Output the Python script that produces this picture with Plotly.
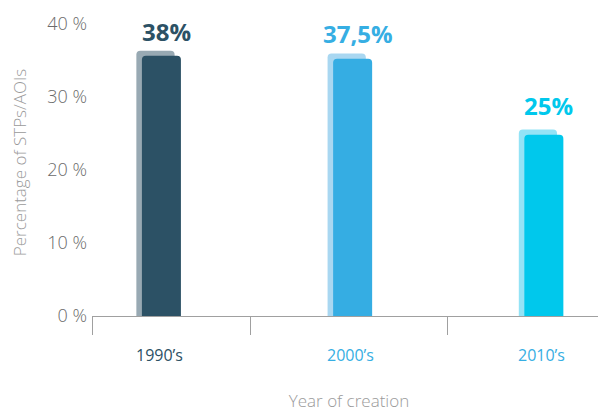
import plotly.graph_objects as go

# ---- data ----
categories = ["1990’s", "2000’s", "2010’s"]
bar_values = [35.6, 35.2, 24.8]          # bar heights (%)
value_labels = ["38%", "37,5%", "25%"]    # labels printed above the bars
y_tick_values = [0, 10, 20, 30, 40]
y_tick_labels = ["0 %", "10 %", "20 %", "30 %", "40 %"]

# ---- style ----
bar_colors = ["#2c5165", "#35ade3", "#00c8ec"]
shadow_colors = ["#98a9b3", "#a9d7f1", "#93e3f6"]
label_colors = ["#2c5165", "#36aee3", "#00c8ec"]
cat_colors = ["#2c5165", "#36aee3", "#36aee3"]
label_yshift = [24, 25, 29]
shadow_lift = 0.7
font_family = "Open Sans"
light = 300

# the page body has a default 8px margin; size the figure to fit the window
page_margin = 8
win_w, win_h = 606, 412

x_pos = list(range(len(categories)))
bar_w = 0.204
shadow_dx = -0.031

fig = go.Figure()
fig.add_trace(go.Bar(
    x=x_pos, y=[v + shadow_lift for v in bar_values],
    width=0.2, offset=-0.1 + shadow_dx,
    marker=dict(color=shadow_colors, line=dict(width=0)),
    hoverinfo="skip", showlegend=False,
))
fig.add_trace(go.Bar(
    x=x_pos, y=bar_values,
    width=bar_w, offset=-bar_w / 2,
    marker=dict(color=bar_colors, line=dict(width=0)),
    showlegend=False,
))

annotations = []
for i, (lab, v) in enumerate(zip(value_labels, bar_values)):
    annotations.append(dict(
        x=x_pos[i], y=v, xref="x", yref="y", text=f"<b>{lab}</b>",
        showarrow=False, xanchor="center", yanchor="middle",
        xshift=5, yshift=label_yshift[i],
        font=dict(family=font_family, size=24, color=label_colors[i]),
    ))
for i, c in enumerate(categories):
    annotations.append(dict(
        x=x_pos[i], y=0, xref="x", yref="paper", text=c,
        showarrow=False, xanchor="center", yanchor="middle",
        xshift=-2, yshift=-39,
        font=dict(family=font_family, size=16, color=cat_colors[i], weight=400),
    ))

x_start = -0.363
x_end = 2.325
fig.update_layout(
    width=win_w - page_margin, height=win_h - page_margin,
    margin=dict(l=92 - page_margin, r=0, t=9 - page_margin, b=96),
    paper_bgcolor="white", plot_bgcolor="white",
    barmode="overlay", barcornerradius=4,
    font=dict(family=font_family),
    annotations=annotations,
    xaxis=dict(
        range=[x_start, x_end], showgrid=False, zeroline=False,
        showline=True, linecolor="#a0a0a0", linewidth=1,
        tickmode="array", tickvals=[x_start + 0.001, 0.468, 1.497],
        ticks="outside", ticklen=18, tickcolor="#a0a0a0", tickwidth=1,
        showticklabels=False, automargin=False,
        title=dict(text="Year of creation", standoff=66,
                   font=dict(family=font_family, size=17, color="#9a9a9a",
                             weight=light)),
    ),
    yaxis=dict(
        range=[0, 42], showgrid=False, zeroline=False, showline=False,
        tickmode="array", tickvals=y_tick_values, ticktext=y_tick_labels,
        ticks="", ticklabelstandoff=4, automargin=False,
        tickfont=dict(family=font_family, size=18, color="#6a6a6a", weight=light),
        title=dict(text="Percentage of STPs/AOIs", standoff=21,
                   font=dict(family=font_family, size=17, color="#9a9a9a",
                             weight=light)),
    ),
)

fig.write_html("out.html")
